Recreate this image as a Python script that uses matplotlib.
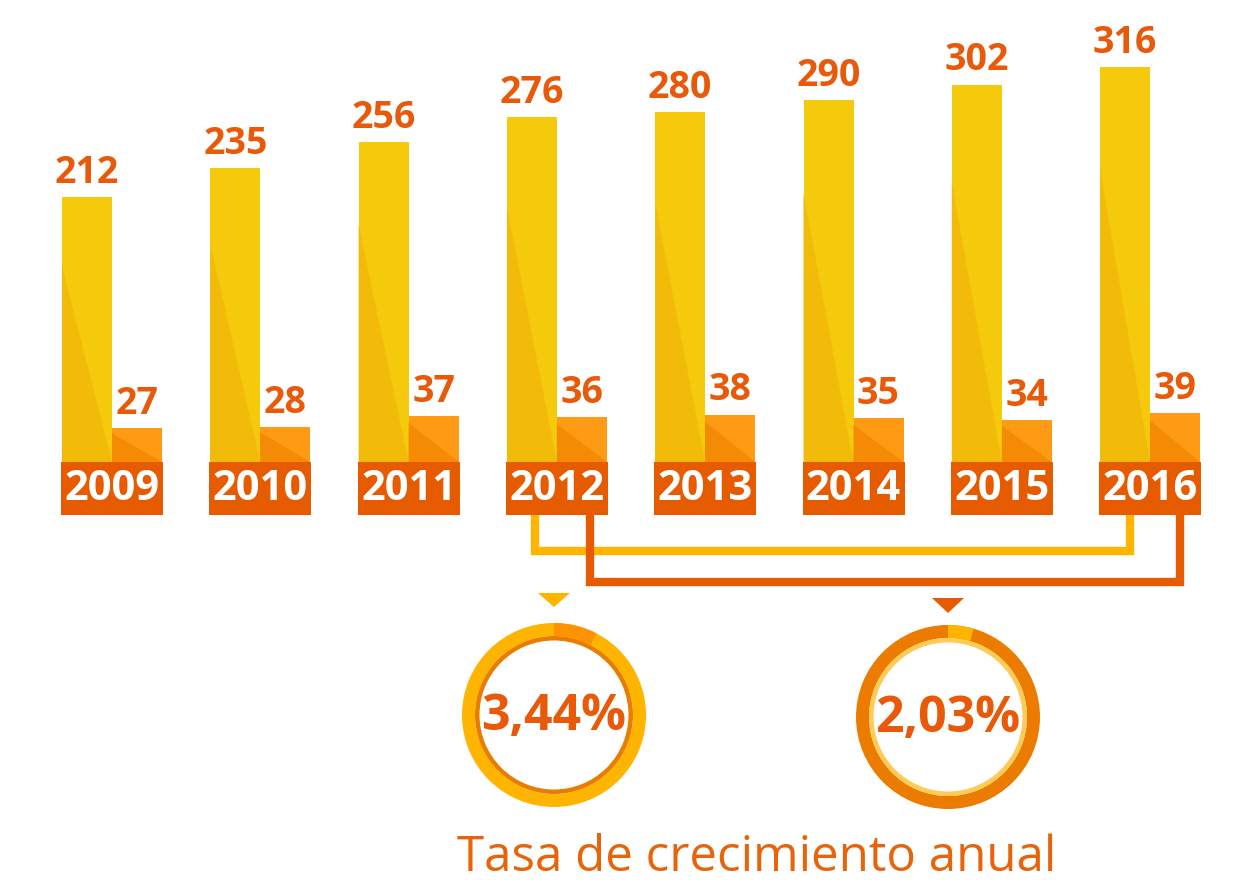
import matplotlib
matplotlib.use("Agg")
import matplotlib.pyplot as plt
from matplotlib.patches import Wedge
import numpy as np

# datos
anios = ["2009", "2010", "2011", "2012", "2013", "2014", "2015", "2016"]
total = [212, 235, 256, 276, 280, 290, 302, 316]
otros = [27, 28, 37, 36, 38, 35, 34, 39]
tasas = ["3,44%", "2,03%"]
tasas_val = [3.44, 2.03]
titulo = "Tasa de crecimiento anual"

NARANJA = "#E8590A"
AMARILLO = "#FFB400"

plt.rcParams["font.family"] = ["Open Sans", "DejaVu Sans"]

W, H = 1239, 894
fig = plt.figure(figsize=(W / 100, H / 100), dpi=100)

# ejes de barras: y en unidades del dato, base en px 462
esc = 1.25          # px por unidad
paso = 148.3        # px entre grupos
ax = fig.add_axes([0, 0, 1, 1])
ax.set_xlim(-112 / paso, (W - 112) / paso)
ax.set_ylim(-(H - 462) / esc, 462 / esc)
ax.axis("off")

w = 50 / paso
x = np.arange(len(anios))

ax.bar(x - w, total, width=w, align="edge", color="#F5C90C", zorder=2)
ax.bar(x, otros, width=w, align="edge", color="#FF9A15", zorder=2)

# sombreado diagonal de cada barra
for i in range(len(anios)):
    ax.fill([x[i] - w, x[i] - w, x[i]], [0, total[i] * 0.74, 0],
            color="#F2BB0A", lw=0, zorder=3)
    ax.fill([x[i], x[i], x[i] + w], [0, otros[i] * 0.85, 0],
            color="#F58A05", lw=0, zorder=3)
    ax.text(x[i] - w / 2, total[i] + 4, str(total[i]), ha="center", va="bottom",
            fontsize=27, fontweight="bold", color=NARANJA, zorder=4)
    ax.text(x[i] + w / 2, otros[i] + 4, str(otros[i]), ha="center", va="bottom",
            fontsize=27, fontweight="bold", color=NARANJA, zorder=4)

# cajas de los años
caja = 102 / paso
ax.bar(x, -42.5, width=caja, color="#E65A00", zorder=3)
for i in range(len(anios)):
    ax.text(x[i], -22, anios[i], ha="center", va="center", fontsize=30,
            fontweight="bold", color="white", zorder=4)

# capa de decoración en píxeles
ax2 = fig.add_axes([0, 0, 1, 1])
ax2.set_xlim(0, W)
ax2.set_ylim(H, 0)
ax2.axis("off")
ax2.patch.set_alpha(0)

ax2.plot([535, 535, 1130, 1130], [515, 551, 551, 515], color=AMARILLO,
         lw=6, solid_joinstyle="miter", solid_capstyle="butt", zorder=2)
ax2.plot([590, 590, 1180, 1180], [515, 582, 582, 515], color="#E65A00",
         lw=6, solid_joinstyle="miter", solid_capstyle="butt", zorder=3)

# triángulos
ax2.fill([538, 570, 554], [593, 593, 607], color=AMARILLO, lw=0)
ax2.fill([932, 964, 948], [598, 598, 613], color="#E65A00", lw=0)

# círculos
centros = [(554, 715), (948, 717)]
anillo = [AMARILLO, "#EC7C00"]
interior = ["#E87E00", "#FFCA55"]
arco = ["#FF9200", AMARILLO]
for k in range(2):
    cx, cy = centros[k]
    ax2.add_patch(Wedge((cx, cy), 92, 0, 360, width=13, color=anillo[k], lw=0))
    ax2.add_patch(Wedge((cx, cy), 79, 0, 360, width=4.5, color=interior[k], lw=0))
    ang = tasas_val[k] * 8
    ax2.add_patch(Wedge((cx, cy), 92, -90, -90 + ang, width=13, color=arco[k], lw=0))
    ax2.text(cx, cy + 2, tasas[k], ha="center", va="center", fontsize=36,
             fontweight="bold", color=NARANJA)

ax2.text(757, 858, titulo, ha="center", va="center", fontsize=35.5,
         color="#E8640A")

fig.savefig("out.png", dpi=100, facecolor="white")
